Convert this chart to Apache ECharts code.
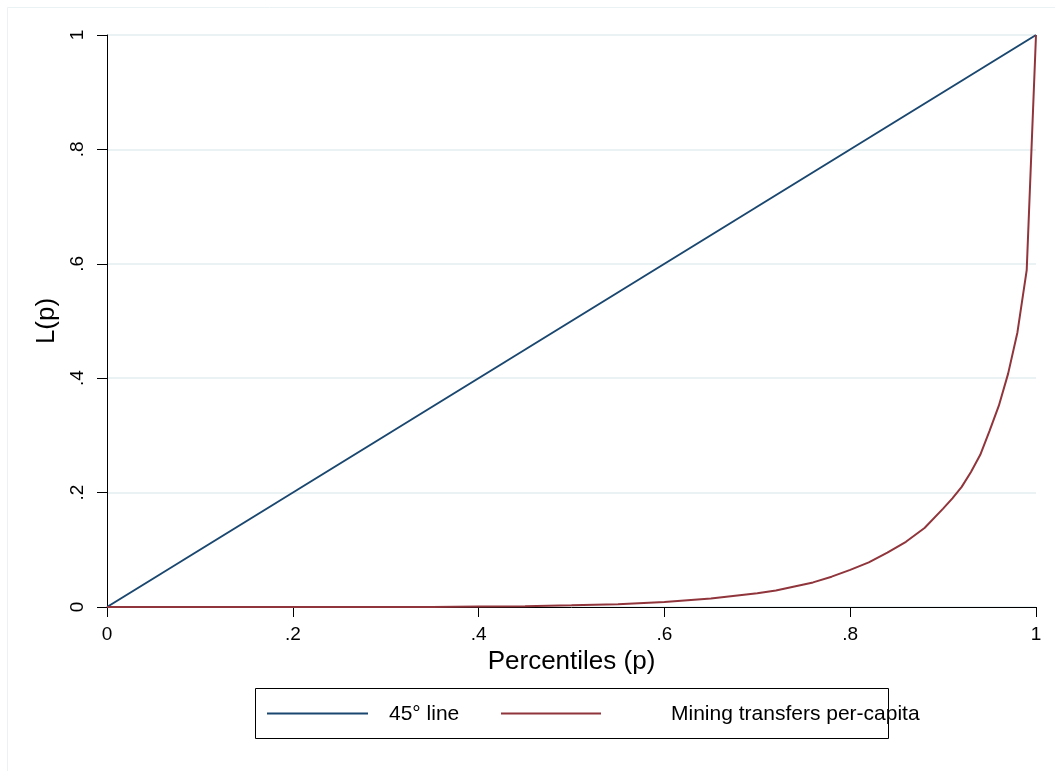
<!DOCTYPE html>
<html>
<head>
<meta charset="utf-8">
<script src="https://cdn.jsdelivr.net/npm/echarts@6/dist/echarts.min.js"></script>
<style>
html,body{margin:0;padding:0;background:#fff;}
#chart{width:1055px;height:771px;}
</style>
</head>
<body>
<div id="chart"></div>
<script>
// Data
var lineNames = ['45\u00b0 line', 'Mining transfers per-capita'];
var diagP = [0, 1];
var diagL = [0, 1];
var curveP = [0, 0.05, 0.10, 0.15, 0.20, 0.25, 0.30, 0.35, 0.40, 0.45, 0.50, 0.55, 0.60, 0.65, 0.70, 0.72, 0.74, 0.76, 0.78, 0.80, 0.82, 0.84, 0.86, 0.88, 0.90, 0.91, 0.92, 0.93, 0.94, 0.95, 0.96, 0.97, 0.98, 0.99, 1.00];
var curveL = [0, 0, 0, 0, 0, 0, 0, 0, 0.0008, 0.0015, 0.003, 0.005, 0.0087, 0.015, 0.024, 0.029, 0.036, 0.043, 0.053, 0.065, 0.078, 0.095, 0.114, 0.138, 0.172, 0.19, 0.21, 0.236, 0.266, 0.308, 0.352, 0.408, 0.48, 0.589, 1.0];
var xTicks = [0, 0.2, 0.4, 0.6, 0.8, 1];
var yTicks = [0, 0.2, 0.4, 0.6, 0.8, 1];
var xTitle = 'Percentiles (p)';
var yTitle = 'L(p)';

var FONT = '"Liberation Sans", Arial, sans-serif';
var BLUE = '#1a476f';
var RED = '#90353b';
var GRIDC = '#eaf2f3';

function fmt(v) {
  var r = Math.round(v * 10) / 10;
  if (r === 0) return '0';
  if (r === 1) return '1';
  return String(r).replace(/^0/, '');
}
function zip(a, b) { return a.map(function (v, i) { return [v, b[i]]; }); }

var chart = echarts.init(document.getElementById('chart'), null, {renderer: 'canvas'});
chart.setOption({
  animation: false,
  backgroundColor: '#ffffff',
  textStyle: {fontFamily: FONT},
  grid: {left: 107, right: 19, top: 35, bottom: 164, containLabel: false},
  xAxis: {
    type: 'value', min: xTicks[0], max: xTicks[xTicks.length - 1], interval: 0.2,
    name: xTitle, nameLocation: 'middle', nameGap: 40,
    nameTextStyle: {fontSize: 26, color: '#000', fontFamily: FONT},
    axisLine: {show: true, onZero: false, lineStyle: {color: '#000', width: 1}},
    axisTick: {show: true, length: 10, lineStyle: {color: '#000', width: 1}},
    axisLabel: {fontSize: 19, color: '#000', margin: 18, fontFamily: FONT, formatter: fmt},
    splitLine: {show: false}
  },
  yAxis: {
    type: 'value', min: yTicks[0], max: yTicks[yTicks.length - 1], interval: 0.2,
    name: yTitle, nameLocation: 'middle', nameGap: 42, nameRotate: 90,
    nameTextStyle: {fontSize: 26, color: '#000', fontFamily: FONT},
    axisLine: {show: true, onZero: false, lineStyle: {color: '#000', width: 1}},
    axisTick: {show: true, length: 10, lineStyle: {color: '#000', width: 1}},
    axisLabel: {fontSize: 19, color: '#000', margin: 20, rotate: 90, fontFamily: FONT, formatter: fmt},
    splitLine: {show: true, lineStyle: {color: GRIDC, width: 2}}
  },
  legend: {show: false},
  series: [
    {name: lineNames[0], type: 'line', data: zip(diagP, diagL), showSymbol: false, symbol: 'none',
     lineStyle: {color: BLUE, width: 2}, itemStyle: {color: BLUE}, z: 2},
    {name: lineNames[1], type: 'line', data: zip(curveP, curveL), showSymbol: false, symbol: 'none',
     lineStyle: {color: RED, width: 2}, itemStyle: {color: RED}, z: 3}
  ],
  graphic: [
    {type: 'rect', shape: {x: 7.5, y: 7.5, width: 1200, height: 900}, style: {fill: null, stroke: GRIDC, lineWidth: 1}, silent: true},
    {type: 'rect', shape: {x: 255.5, y: 688.5, width: 633, height: 50}, style: {fill: null, stroke: '#000', lineWidth: 1}, silent: true},
    {type: 'line', shape: {x1: 267, y1: 713.5, x2: 368, y2: 713.5}, style: {stroke: BLUE, lineWidth: 2}},
    {type: 'text', x: 389, y: 714, style: {text: lineNames[0], fontSize: 21, fontFamily: FONT, fill: '#000', textVerticalAlign: 'middle', textAlign: 'left'}},
    {type: 'line', shape: {x1: 501, y1: 713.5, x2: 601, y2: 713.5}, style: {stroke: RED, lineWidth: 2}},
    {type: 'text', x: 671, y: 714, style: {text: lineNames[1], fontSize: 21, fontFamily: FONT, fill: '#000', textVerticalAlign: 'middle', textAlign: 'left'}}
  ]
});
</script>
</body>
</html>
